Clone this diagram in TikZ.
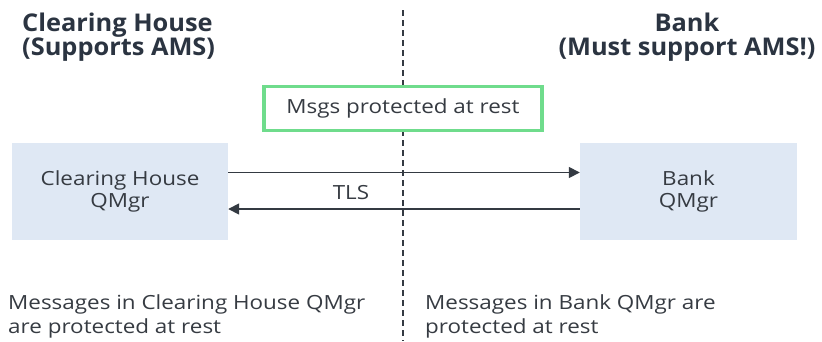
\documentclass[tikz,border=0pt]{standalone}
\usepackage{fontspec}
\setmainfont{Open Sans}
\newfontfamily\regfont[FakeStretch=1.15]{Open Sans}
\newfontfamily\ttlfont[FakeStretch=1.04]{Open Sans}
\usetikzlibrary{arrows.meta}
\definecolor{ttl}{HTML}{2B3441}
\definecolor{txt}{HTML}{363B42}
\definecolor{qfill}{HTML}{DFE8F4}
\definecolor{grn}{HTML}{6FDC8C}
\definecolor{lin}{HTML}{343A42}
\tikzset{
  qbox/.style={fill=qfill, draw=none, minimum height=97pt, align=center, font=\regfont\fontsize{19.5}{22}\selectfont, text=txt, inner sep=0pt},
  title/.style={font=\ttlfont\fontsize{24.4}{24}\selectfont\bfseries, text=ttl, inner sep=0pt},
  body/.style={font=\regfont\fontsize{19.5}{24}\selectfont, text=txt, inner sep=0pt, align=left},
  conn/.style={draw=lin, line width=1.6pt, -{Triangle[length=11pt,width=11pt]}},
}
\begin{document}
\begin{tikzpicture}[x=1pt,y=-1pt]
\useasboundingbox (0,0) rectangle (822,341);
\coordinate (dtop) at (403,10);
\coordinate (dbot) at (403,341);
\draw[lin, line width=1.4pt, dash pattern=on 6pt off 4pt] (dtop) -- (dbot);
\node[title, anchor=base west, align=left] (t1) at (22,55) {Clearing House\\(Supports AMS)};
\node[title, anchor=base, align=center] (t2) at (687,55) {Bank\\(Must support AMS!)};
\node[draw=grn, line width=3.5pt, fill=white, minimum width=278pt, minimum height=44pt, inner sep=0pt, font=\regfont\fontsize{19.5}{20}\selectfont, text=txt] (g) at (403,108.5) {Msgs protected at rest};
\node[qbox, minimum width=216pt] (ch) at (120,191.5) {Clearing House\\QMgr};
\node[qbox, minimum width=217pt] (bk) at (688.5,191.5) {Bank\\QMgr};
\draw[conn] (ch.east |- 0,172.5) -- (bk.west |- 0,172.5);
\draw[conn] (bk.west |- 0,209) -- (ch.east |- 0,209);
\node[font=\regfont\fontsize{19.5}{20}\selectfont, text=txt, inner sep=0pt, anchor=base] (tls) at (351,199) {TLS};
\node[body, anchor=base west] (b1) at (8,333) {Messages in Clearing House QMgr\\are protected at rest};
\node[body, anchor=base west] (b2) at (425,333) {Messages in Bank QMgr are\\protected at rest};
\end{tikzpicture}
\end{document}
